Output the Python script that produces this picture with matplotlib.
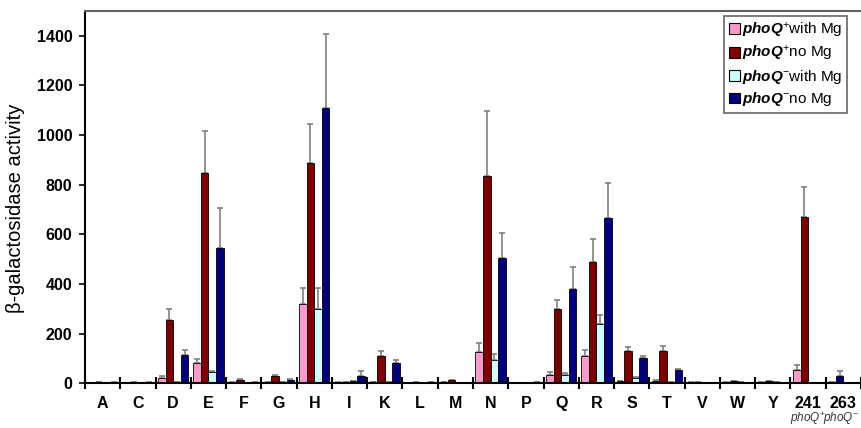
import numpy as np
import matplotlib.pyplot as plt
from matplotlib.patches import Patch

plt.rcParams['font.family'] = ['Liberation Sans', 'DejaVu Sans']
plt.rcParams['mathtext.fontset'] = 'custom'
plt.rcParams['mathtext.rm'] = 'Liberation Sans'
plt.rcParams['mathtext.it'] = 'Liberation Sans:italic'
plt.rcParams['mathtext.bf'] = 'Liberation Sans:bold'
plt.rcParams['mathtext.bfit'] = 'Liberation Sans:italic:bold'

groups = ['A', 'C', 'D', 'E', 'F', 'G', 'H', 'I', 'K', 'L', 'M', 'N', 'P', 'Q', 'R',
          'S', 'T', 'V', 'W', 'Y', '241', '263']

nan = np.nan
plus_mg = [2, 2, 22, 80, 3, 5, 318, 3, 5, 2, 4, 125, 2, 35, 110, 8, 10, 3, 3, 3, 55, nan]
plus_nomg = [6, 6, 255, 848, 14, 28, 885, 5, 110, 5, 12, 835, 2, 298, 488, 130, 130, 5, 8, 8, 670, nan]
minus_mg = [2, 3, 6, 45, 3, 5, 300, 8, 5, 3, 3, 95, 3, 35, 240, 20, 5, 3, 5, 5, nan, 3]
minus_nomg = [4, 3, 112, 545, 6, 15, 1108, 30, 80, 5, 3, 505, 5, 378, 665, 100, 55, 3, 3, 3, nan, 30]

err_plus_mg = [1, 1, 6, 17, 1, 1, 67, 1, 2, 1, 1, 37, 0, 10, 25, 2, 2, 1, 1, 1, 17, 0]
err_plus_nomg = [1, 1, 45, 167, 2, 4, 160, 1, 20, 1, 2, 263, 0, 37, 92, 15, 22, 1, 1, 1, 120, 0]
err_minus_mg = [0, 0, 1, 5, 0, 0, 85, 3, 1, 0, 0, 23, 0, 5, 35, 5, 1, 0, 1, 1, 0, 1]
err_minus_nomg = [1, 1, 23, 160, 1, 3, 297, 18, 15, 1, 0, 100, 1, 90, 140, 10, 3, 0, 0, 0, 0, 20]

labels = [r'$\mathbfit{phoQ}^{+}$with Mg', r'$\mathbfit{phoQ}^{+}$no Mg',
          r'$\mathbfit{phoQ}^{-}$with Mg', r'$\mathbfit{phoQ}^{-}$no Mg']
colors = ['#FF99CC', '#800000', '#CCFFFF', '#000080']

fig = plt.figure(figsize=(8.61, 4.28), dpi=100)
ax = fig.add_axes([85 / 861, (428 - 383.3) / 428, (861 - 85) / 861, (383.3 - 10.7) / 428])

n = len(groups)
bw = 0.215
first = 0.07
series = [plus_mg, plus_nomg, minus_mg, minus_nomg]
errs = [err_plus_mg, err_plus_nomg, err_minus_mg, err_minus_nomg]
# the phoQ- strain 263 only has the two phoQ- bars, drawn in the first two slots
shift = np.zeros(n)
shift[-1] = 2 * bw
for k, (vals, er) in enumerate(zip(series, errs)):
    vals = np.array(vals, dtype=float)
    x = np.arange(n) + first + k * bw + bw / 2
    if k >= 2:
        x = x - shift
    ax.bar(x, vals, width=bw, color=colors[k], edgecolor='black', linewidth=0.6, zorder=2)
    ok = ~np.isnan(vals)
    ax.errorbar(x[ok], vals[ok], yerr=[np.zeros(ok.sum()), np.array(er)[ok]], fmt='none',
                ecolor='#808080', elinewidth=1.2, capsize=2.5, capthick=1.2, zorder=1)

ax.set_xlim(0, n)
ax.set_ylim(0, 1500)
ax.set_yticks(range(0, 1401, 200))
ax.set_xticks(range(n + 1))
ax.set_xticklabels([])
ax.set_xticks(np.arange(n) + 0.5, minor=True)
ax.set_xticklabels(groups, minor=True, fontsize=11.5, fontweight='bold')
ax.tick_params(axis='x', which='major', direction='inout', length=8, width=1.5)
ax.tick_params(axis='x', which='minor', length=0, pad=9)
ax.tick_params(axis='y', direction='out', length=4, width=1.2, labelsize=11.5, pad=5)
for t in ax.get_yticklabels():
    t.set_fontweight('bold')

ax.spines['right'].set_visible(False)
ax.spines['left'].set_linewidth(1.5)
ax.spines['bottom'].set_linewidth(1.5)
ax.spines['top'].set_color('#606060')
ax.spines['top'].set_linewidth(1.5)

ax.set_ylabel('β-galactosidase activity', fontsize=14.5)
ax.yaxis.set_label_coords(-60 / 776, 0.47)

ax.text(20.5, -35 / 372.6, r'$\it{phoQ}^{+}$', transform=ax.get_xaxis_transform(),
        ha='center', va='center', fontsize=8.5, color='#333333', clip_on=False)
ax.text(21.45, -35 / 372.6, r'$\it{phoQ}^{-}$', transform=ax.get_xaxis_transform(),
        ha='center', va='center', fontsize=8.5, color='#333333', clip_on=False)

handles = [Patch(facecolor=c, edgecolor='black', linewidth=0.8) for c in colors]
leg = fig.legend(handles, labels, loc='upper right', bbox_to_anchor=(847 / 861, 1 - 16 / 428),
                 fontsize=11, frameon=True, fancybox=False, edgecolor='#404040',
                 handlelength=0.7, handleheight=0.7, handletextpad=0.15,
                 labelspacing=0.3, borderpad=0.3, borderaxespad=0)
leg.get_frame().set_linewidth(1.2)

plt.savefig('out.png', dpi=100)
